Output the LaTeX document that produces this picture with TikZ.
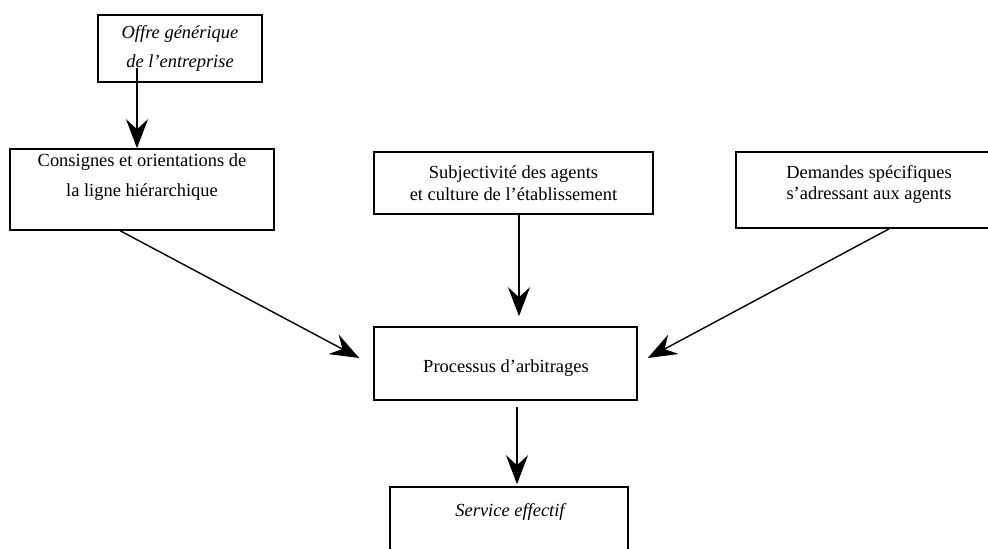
\documentclass[tikz,border=0pt]{standalone}
\usepackage{fontspec}
\setmainfont{Liberation Serif}
\usetikzlibrary{arrows.meta}

\begin{document}
\begin{tikzpicture}[
  box/.style={rectangle, draw, line width=0.9pt, inner sep=0pt},
  lbl/.style={align=center, font=\fontsize{10.5}{17}\selectfont, inner sep=0pt},
  lbltight/.style={align=center, font=\fontsize{10.5}{12.5}\selectfont, inner sep=0pt},
  lblit/.style={align=center, font=\fontsize{10.5}{17}\selectfont\itshape, inner sep=0pt},
  arr/.style={line width=0.8pt, -{Stealth[length=0.58cm, width=0.44cm, inset=0.2cm]}},
]
\useasboundingbox (0,0) rectangle (19.76,-10.98);

% Top box
\node[box, lblit, minimum width=3.28cm, minimum height=1.34cm] (offre) at (3.60,-0.97) {Offre générique\\de l'entreprise};

% Middle row
\node[box, minimum width=5.28cm, minimum height=1.62cm] (cons) at (2.84,-3.79) {};
\node[lbl] (cons-txt) at (2.84,-3.54) {Consignes et orientations de\\la ligne hiérarchique};
\node[box, lbltight, minimum width=5.58cm, minimum height=1.24cm] (subj) at (10.27,-3.66) {Subjectivité des agents\\et culture de l'établissement};
\node[box, minimum width=5.28cm, minimum height=1.52cm] (dem) at (17.36,-3.80) {};
\node[lbltight] (dem-txt) at (17.38,-3.69) {Demandes spécifiques\\s'adressant aux agents};

% Arbitration
\node[box, minimum width=5.26cm, minimum height=1.46cm] (proc) at (10.11,-7.27) {};
\node[lbl] (proc-txt) at (10.12,-7.36) {Processus d'arbitrages};

% Result (cut by the page edge)
\node[box, minimum width=4.76cm, minimum height=1.66cm] (serv) at (10.18,-10.57) {};
\node[lblit] (serv-txt) at (10.20,-10.24) {Service effectif};

% Arrows
\coordinate (o1) at (2.74,-1.36);
\draw[arr] (o1) -- (o1 |- cons.north);
\draw[arr] ([xshift=2.22cm]cons.south west) -- ([xshift=-0.28cm, yshift=0.11cm]proc.west);
\draw[arr, shorten >=0.2cm] ([xshift=0.11cm]subj.south) -- ([xshift=0.11cm]subj.south |- proc.north);
\draw[arr] ([xshift=3.08cm]dem.south west) -- ([xshift=0.2cm, yshift=0.11cm]proc.east);
\draw[arr, shorten <=0.12cm, shorten >=0.04cm] ([xshift=0.23cm]proc.south) -- ([xshift=0.23cm]proc.south |- serv.north);

\end{tikzpicture}
\end{document}
